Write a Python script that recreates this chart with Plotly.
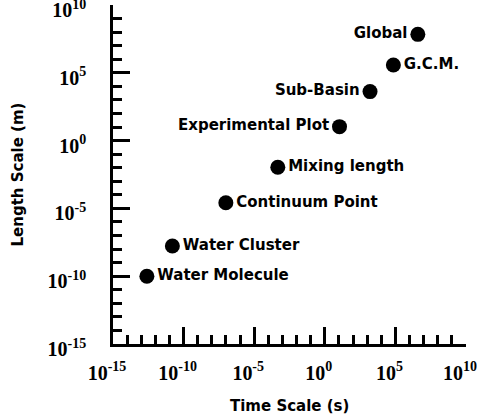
import plotly.graph_objects as go

# Data (time scale in s, length scale in m)
labels = ["Global", "G.C.M.", "Sub-Basin", "Experimental Plot",
          "Mixing length", "Continuum Point", "Water Cluster", "Water Molecule"]
time_s = [3.9e6, 7.2e4, 1.6e3, 11.0, 4.7e-4, 9.8e-8, 1.6e-11, 2.5e-13]
length_m = [6.9e7, 3.8e5, 4.1e3, 10.7, 1.07e-2, 2.6e-5, 1.7e-8, 1.0e-10]
label_side = ["middle left", "middle right", "middle left", "middle left",
              "middle right", "middle right", "middle right", "middle right"]

major_exp = [-15, -10, -5, 0, 5, 10]
major_vals = [10.0 ** e for e in major_exp]
major_text = ["<b>10<sup>%d</sup></b>" % e for e in major_exp]
minor_vals = [10.0 ** e for e in range(-15, 11)]

x_title = "Time Scale (s)"
y_title = "Length Scale (m)"

fig = go.Figure()
fig.add_trace(go.Scatter(
    x=time_s, y=length_m, mode="markers+text",
    text=labels, textposition=label_side,
    marker=dict(size=15, color="black"),
    textfont=dict(family="DejaVu Sans", size=15, color="black", weight="bold"),
    cliponaxis=False, showlegend=False, hoverinfo="skip"))

axis_common = dict(
    type="log", range=[-15.002, 10.002], showgrid=False, zeroline=False,
    showline=True, linecolor="black", linewidth=2.5,
    ticks="inside", ticklen=17, tickwidth=2.5, tickcolor="black",
    tickmode="array", tickvals=major_vals, ticktext=major_text,
    tickfont=dict(family="Liberation Serif", size=20, color="black"),
    ticklabeloverflow="allow",
    minor=dict(ticks="inside", ticklen=9, tickwidth=2.5, tickcolor="black",
               tickmode="array", tickvals=minor_vals, showgrid=False),
)

fig.update_xaxes(**axis_common, ticklabelstandoff=9, ticklabelshift=-6)
fig.update_yaxes(**axis_common, ticklabelstandoff=20, ticklabelshift=5)

title_font = dict(family="DejaVu Sans", size=15, color="black", weight="bold")
fig.add_annotation(text=x_title, xref="paper", yref="paper", x=0.5, y=0,
                   xanchor="center", yanchor="middle", yshift=-62,
                   showarrow=False, font=title_font)
fig.add_annotation(text=y_title, xref="paper", yref="paper", x=0, y=0.5,
                   xanchor="center", yanchor="middle", xshift=-96, textangle=-90,
                   showarrow=False, font=title_font)

fig.update_layout(
    width=477, height=414,
    margin=dict(l=113, r=11, t=5, b=70, autoexpand=False),
    paper_bgcolor="white", plot_bgcolor="white",
)

fig.write_html("out.html")
